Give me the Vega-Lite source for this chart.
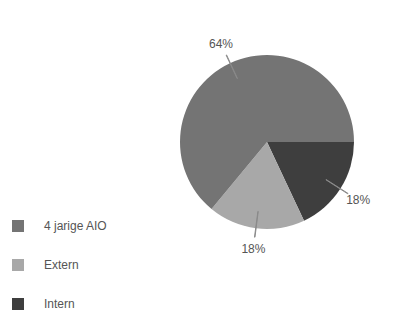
{
  "$schema": "https://vega.github.io/schema/vega-lite/v6.json",
  "width": 274,
  "height": 284,
  "autosize": {"type": "none"},
  "padding": {"left": 130, "top": 0, "right": 5, "bottom": 31},
  "background": "white",
  "config": {"view": {"stroke": null}, "font": "Liberation Sans"},
  "data": {
    "values": [
      {"status": "Intern", "pct": 18, "ord": 1, "label": "18%"},
      {"status": "Extern", "pct": 18, "ord": 2, "label": "18%"},
      {"status": "4 jarige AIO", "pct": 64, "ord": 3, "label": "64%"}
    ]
  },
  "encoding": {
    "theta": {"field": "pct", "type": "quantitative", "stack": true, "scale": {"range": [1.5708, 7.854]}},
    "order": {"field": "ord", "type": "quantitative"}
  },
  "layer": [
    {
      "mark": {"type": "arc", "radius": 87, "stroke": null},
      "encoding": {
        "color": {
          "field": "status",
          "type": "nominal",
          "scale": {"domain": ["4 jarige AIO", "Extern", "Intern"], "range": ["#747474", "#a8a8a8", "#3e3e3e"]},
          "legend": {
            "title": null,
            "orient": "none",
            "legendX": -118,
            "legendY": 220,
            "symbolType": "square",
            "symbolSize": 144,
            "symbolStrokeWidth": 0,
            "labelFontSize": 12,
            "labelColor": "#555555",
            "labelFont": "Liberation Sans",
            "labelOffset": 20,
            "rowPadding": 27
          }
        }
      }
    },
    {
      "transform": [
        {"window": [{"op": "sum", "field": "pct", "as": "cum"}], "sort": [{"field": "ord"}]},
        {"calculate": "datum.cum - datum.pct / 2", "as": "midA"},
        {"calculate": "datum.midA + 0.08", "as": "midB"}
      ],
      "mark": {"type": "arc", "radius": 96, "radius2": 70, "stroke": "#8a8a8a", "strokeWidth": 1, "fill": null},
      "encoding": {
        "theta": {"field": "midA", "type": "quantitative", "stack": null},
        "theta2": {"field": "midB"}
      }
    },
    {
      "mark": {"type": "text", "radius": 108, "fontSize": 12, "fill": "#555555", "font": "Liberation Sans"},
      "encoding": {"text": {"field": "label"}}
    }
  ]
}
